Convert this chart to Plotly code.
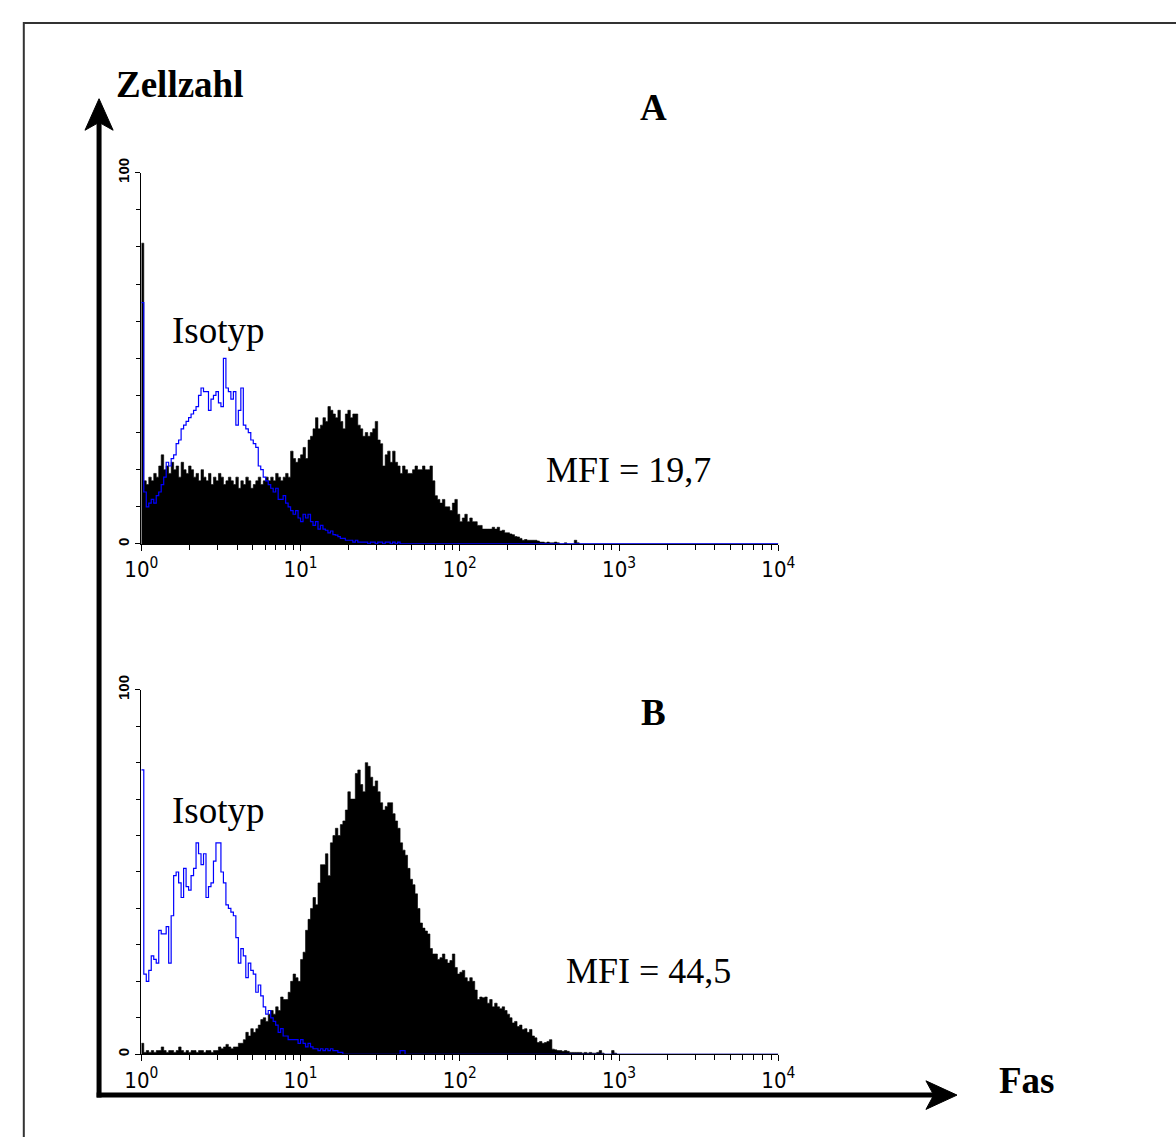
import plotly.graph_objects as go

W, H = 1176, 1137       # page (window) size = figure size
N_CH = 256              # channels over 4 decades
DECADES = 4

# ---------------- data (counts per channel, 0..100 scale) ----------------
a_fas = [81,
    17, 16, 18, 17, 19, 18, 21, 24, 20,
    21, 19, 22, 20, 21, 18, 22, 20, 19, 21, 20,
    18, 19, 17, 20, 18, 17, 19, 16, 18, 17, 19, 18, 16, 17, 18,
    17, 16, 18, 15, 17, 16, 18, 17, 15, 16, 17, 18, 16, 17, 18,
    17, 18, 17, 19, 18, 17, 18, 19, 18,
    25, 23, 22, 23, 24, 26, 23,
    28, 29, 31, 34, 31, 32, 34, 33,
    37, 36, 35, 34, 36, 33, 31, 35, 36, 34,
    35, 35, 32, 31, 29, 30, 29, 30, 31, 33,
    28, 27, 21, 24, 25, 22, 25, 22, 21, 19,
    21, 20, 19, 19, 20, 21, 20, 20, 21, 20, 20, 21,
    17, 13, 12, 11, 12,
    10, 10, 9, 11, 12, 8, 6, 7, 8, 6,
    7, 6, 6, 5, 5, 4, 4, 4, 4,
    4.5, 4, 4.5, 3.5, 3.7, 3, 3, 2.7, 2.5, 2,
    1.9, 1.5, 1, 1.2, 1, 1, 1, 1, 0.8, 0.5,
    0.5, 0.3, 0.5, 0.3, 0.3, 0.5, 0.3, 0, 0, 0.3, 0, 0, 0, 1, 0.3]

a_iso = [65,
    14, 10, 11, 12, 11, 13, 14, 16, 18, 22,
    21, 23, 24, 27, 28, 31, 32, 33, 34, 35,
    36, 37, 40, 42, 41, 41, 36, 39, 40, 41,
    38, 37, 50, 42, 41, 39, 41, 32, 36, 42,
    32, 31, 30, 28, 27, 26, 21, 20, 18, 17,
    16, 15, 14, 15, 12, 12, 13, 11, 10, 9,
    8, 9, 7, 6, 8, 7, 8, 6, 5, 6,
    4, 5, 4, 3.7, 3, 3.5, 2.5, 2.4, 2, 1.5,
    1.5, 1, 1, 1, 0.5, 1, 0.5, 0.5, 0.5, 0.5,
    0, 0.5, 0.5, 0, 0.5, 0.5, 0, 0.5, 0.5, 0,
    0.5, 0, 0.5, 0]

b_fas = [3,
    0.5, 1, 0.5, 1, 0.5, 1, 1, 2, 1, 0.5,
    1, 1, 0.5, 1, 2, 1, 0.5, 1, 0.5, 1,
    1, 0.5, 1, 1, 0.5, 1, 1, 0.5, 1, 1,
    2, 1.5, 2, 2.7, 2, 1.5, 2, 2, 3,
    3, 4, 6, 5, 7, 6, 7, 8, 9.5, 10,
    9, 11, 12, 11, 13, 12, 15.7, 15, 15, 17,
    20, 22, 21, 20, 26, 28, 34,
    37, 40, 43, 41, 47, 52, 52, 55, 49,
    58, 60, 62, 60, 63, 64, 67, 72, 70, 70,
    77, 78, 74, 72, 80, 79, 76, 73.5, 75, 72,
    69, 67, 68, 69, 69, 66, 64, 62, 58, 56,
    54.6, 51, 48, 46.5, 44, 40, 36, 34.6, 33.8, 33,
    29, 27.5, 27.5, 26, 26.5, 27.5, 26, 25, 25.7, 27.5,
    23.8, 22, 22.5, 23, 21, 20, 21, 20, 17.6, 15,
    15.7, 15.5, 15.7, 14, 15, 13, 14, 13, 12.5, 13,
    12, 11, 10, 8.6, 9, 7.6, 8, 6.8, 7, 6,
    6.8, 5, 4.5, 3.2, 3.5, 3, 3.2, 3.5, 4, 1.4,
    1.2, 1, 1, 0.8, 1, 0.8, 0.5, 0.5, 0.5, 0.5,
    0.5, 0.3, 0.5, 0.3, 0.5, 0.3, 0.3, 0.5, 1, 0.3,
    0, 0, 0, 1, 0.3]

b_iso = [78,
    22, 20, 23, 27, 26, 25, 34, 33, 33, 35,
    25, 38, 49, 50, 47, 43, 51, 46, 45, 49,
    51, 58, 55, 52, 55, 43, 46, 47, 53, 58,
    58, 50, 47, 41, 40, 39, 38, 32, 25, 29,
    27, 21, 25, 23, 22, 17, 19, 16, 13, 11,
    12, 10, 9, 8, 6, 7, 5, 5, 4, 4,
    4, 4, 3, 4, 3, 2, 3, 2, 1.5, 1.5,
    1, 1.5, 1, 1.5, 1, 1.5, 1, 1, 0.5, 0.5,
    0, 0, 0, 0, 0, 0, 0, 0, 0, 0,
    0, 0, 0, 0, 0, 0, 0, 0, 0, 0,
    0, 0, 0, 1, 1, 0]

x_ticktext = ["10<sup>0</sup>", "10<sup>1</sup>", "10<sup>2</sup>", "10<sup>3</sup>", "10<sup>4</sup>"]
x_tickvals = [1, 10, 100, 1000, 10000]
y_tickvals = [0, 100]
y_ticktext = ["<b>0</b>", "<b>100</b>"]

panel_titles = ["A", "B"]
mfi_labels = ["MFI = 19,7", "MFI = 44,5"]
iso_label = "Isotyp"
y_title = "Zellzahl"
x_title = "Fas"


# ---------------- helpers ----------------
def pad(v):
    return list(v) + [0] * (N_CH - len(v))


def edges():
    return [10 ** (i * DECADES / N_CH) for i in range(N_CH + 1)]


def step_xy(v):
    v = pad(v)
    return edges(), v + [v[-1]]


def px(x):       # pixel -> paper fraction
    return x / W


def py(y):
    return 1 - y / H


fig = go.Figure()

panels = [
    dict(fas=a_fas, iso=a_iso, xa="x", ya="y", top=160, bot=537),
    dict(fas=b_fas, iso=b_iso, xa="x2", ya="y2", top=685, bot=1055),
]

for p in panels:
    xs, ys = step_xy(p["fas"])
    fig.add_trace(go.Scatter(x=xs, y=ys, mode="lines", line=dict(color="black", width=0.6, shape="hv"),
                             fill="tozeroy", fillcolor="black", xaxis=p["xa"], yaxis=p["ya"],
                             showlegend=False, hoverinfo="skip"))
    xs, ys = step_xy(p["iso"])
    fig.add_trace(go.Scatter(x=xs, y=ys, mode="lines", line=dict(color="#0000ff", width=1.2, shape="hv"),
                             xaxis=p["xa"], yaxis=p["ya"], cliponaxis=False,
                             showlegend=False, hoverinfo="skip"))

x_dom = [px(128), px(784)]
minor_x = [m * 10 ** d for d in range(DECADES) for m in range(2, 10)]
tickfont_x = dict(family="DejaVu Sans Condensed, Liberation Sans Narrow, Arial Narrow, Liberation Sans",
                  size=22, color="black")
tickfont_y = dict(family="Liberation Sans, Arial", size=15, color="black")

layout = dict(
    width=W, height=H, margin=dict(l=0, r=0, t=0, b=0),
    paper_bgcolor="white", plot_bgcolor="white",
)
for i, p in enumerate(panels):
    sx = "" if i == 0 else "2"
    layout["xaxis" + sx] = dict(
        type="log", range=[0, DECADES], domain=x_dom, anchor="y" + sx,
        showgrid=False, zeroline=False, showline=True, linecolor="black", linewidth=1,
        ticks="outside", ticklen=6, tickcolor="black", tickwidth=1,
        tickvals=x_tickvals, ticktext=x_ticktext, tickfont=tickfont_x,
        minor=dict(tickvals=minor_x, ticks="outside", ticklen=5, tickcolor="black", showgrid=False),
        fixedrange=True,
    )
    layout["yaxis" + sx] = dict(
        range=[0, 100], domain=[py(p["bot"]), py(p["top"])], anchor="x" + sx,
        showgrid=False, zeroline=False, showline=True, linecolor="black", linewidth=1,
        ticks="outside", ticklen=5, tickcolor="black", tickwidth=1,
        tickvals=y_tickvals, ticktext=y_ticktext, tickangle=-90, tickfont=tickfont_y,
        minor=dict(dtick=10, ticks="outside", ticklen=4, tickcolor="black", showgrid=False),
        fixedrange=True,
    )
fig.update_layout(**layout)

# ---------------- decorations ----------------
shapes = []
# outer frame
shapes.append(dict(type="rect", xref="paper", yref="paper", x0=px(7), x1=1.02, y0=-0.02, y1=py(8),
                   line=dict(color="#333333", width=2), fillcolor="rgba(0,0,0,0)", layer="below"))
# axis arrows (shafts)
shapes.append(dict(type="line", xref="paper", yref="paper", x0=px(84.5), x1=px(84.5), y0=py(1099), y1=py(108),
                   line=dict(color="black", width=5)))
shapes.append(dict(type="line", xref="paper", yref="paper", x0=px(82), x1=px(948), y0=py(1096.5), y1=py(1096.5),
                   line=dict(color="black", width=5)))


def path(pts):
    return "M " + " L ".join(f"{px(x):.5f},{py(y):.5f}" for x, y in pts) + " Z"


shapes.append(dict(type="path", xref="paper", yref="paper",
                   path=path([(84.5, 85), (99, 117), (84.5, 109), (70, 117)]),
                   fillcolor="black", line=dict(color="black", width=1)))
shapes.append(dict(type="path", xref="paper", yref="paper",
                   path=path([(968, 1096.5), (936, 1111), (944, 1096.5), (936, 1082)]),
                   fillcolor="black", line=dict(color="black", width=1)))
fig.update_layout(shapes=shapes)

serif = "Liberation Serif, Times New Roman, serif"


def ann(text, x, y, size, bold=False):
    return dict(text=("<b>%s</b>" % text) if bold else text, x=px(x), y=py(y), xref="paper", yref="paper",
                showarrow=False, xanchor="center", yanchor="middle",
                font=dict(family=serif, size=size, color="black"))


annotations = [
    ann(y_title, 167, 71, 37, bold=True),
    ann(panel_titles[0], 655, 94, 37, bold=True),
    ann(panel_titles[1], 655, 708, 37, bold=True),
    ann(iso_label, 207, 320, 37),
    ann(iso_label, 207, 808, 37),
    ann(mfi_labels[0], 630, 462, 36),
    ann(mfi_labels[1], 650, 971, 36),
    ann(x_title, 1040, 1082, 37, bold=True),
]
fig.update_layout(annotations=annotations)

fig.write_html("out.html")
